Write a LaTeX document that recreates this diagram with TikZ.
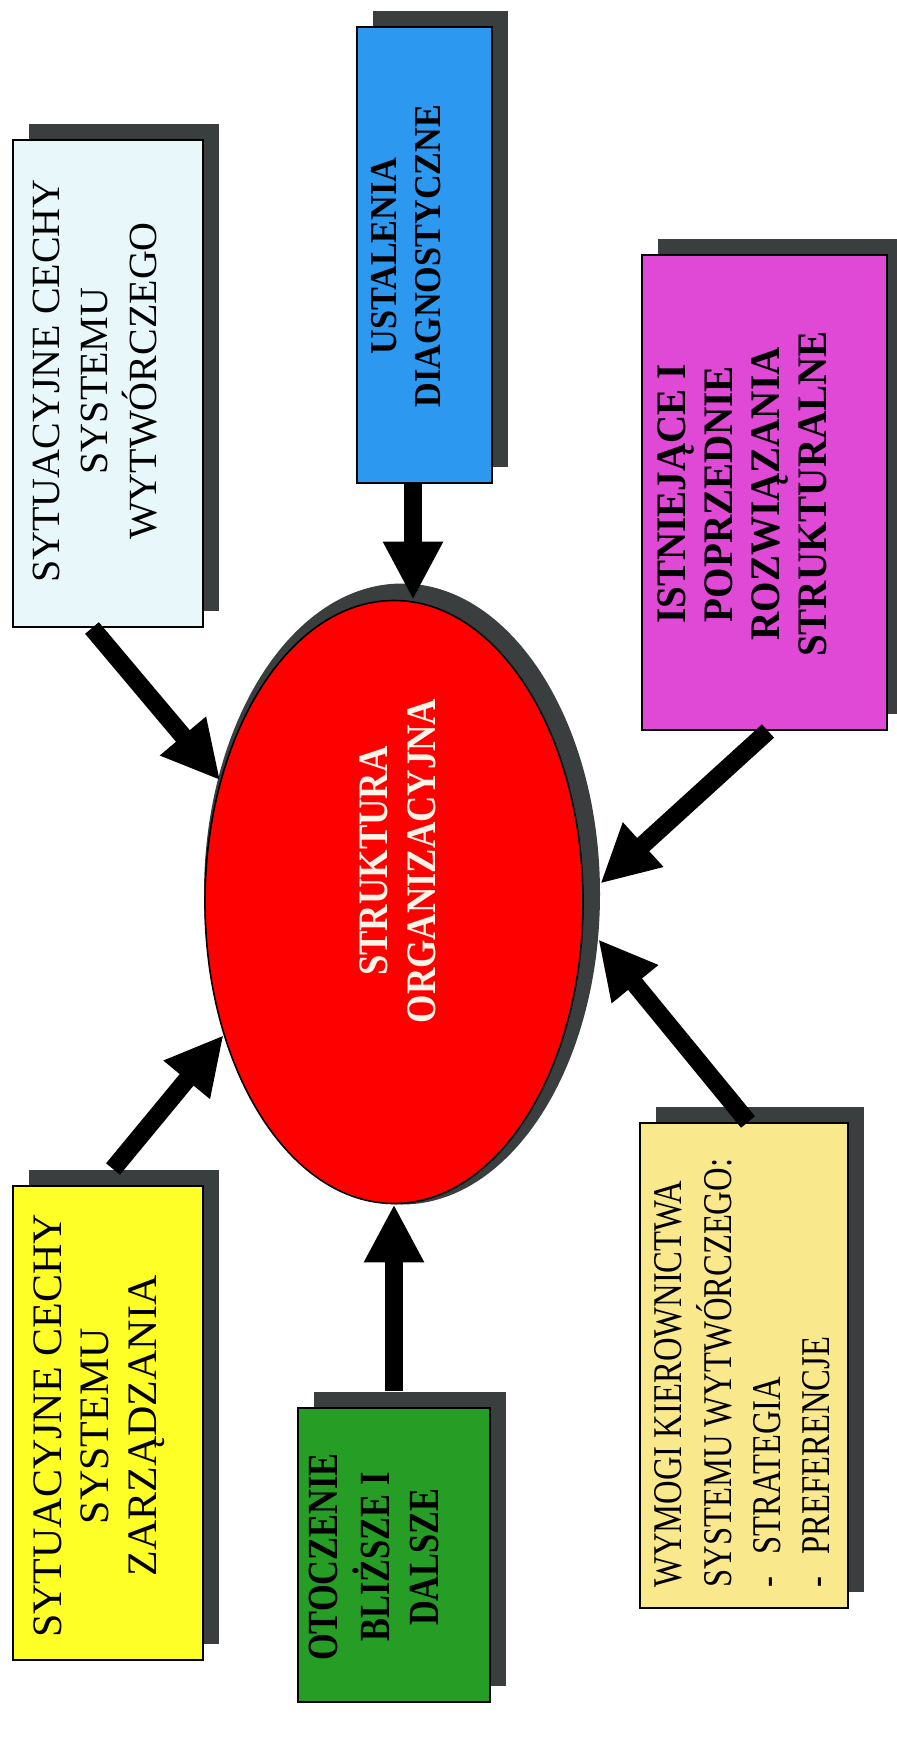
\documentclass[tikz,border=0pt]{standalone}
\usepackage{fontspec}
\usepackage{graphicx}
\setmainfont{Liberation Serif}
\usetikzlibrary{shapes.geometric,shadows,arrows.meta,calc}

\definecolor{shadowgray}{RGB}{58,62,62}
\definecolor{paleCyan}{RGB}{232,248,250}
\definecolor{skyBlue}{RGB}{45,152,240}
\definecolor{orchid}{RGB}{224,72,214}
\definecolor{lemon}{RGB}{255,255,40}
\definecolor{leaf}{RGB}{38,158,38}
\definecolor{sand}{RGB}{250,232,140}
\definecolor{cream}{RGB}{255,244,232}

% rotated, optionally condensed text block: #1 scale, #2 font size, #3 leading, #4 column, #5 lines
\newcommand\vblock[5]{\scalebox{#1}[1]{\fontsize{#2}{#3}\selectfont\begin{tabular}{@{}#4@{}}#5\end{tabular}}}

\tikzset{
  panel/.style={draw=black, line width=1pt, inner sep=0pt,
    drop shadow={shadow xshift=8pt, shadow yshift=8pt, fill=shadowgray, opacity=1}},
  vtext/.style={rotate=90, inner sep=0pt, text=black},
  feed/.style={line width=9pt, -{Triangle[length=29pt 0 0, width=28pt 0 0]}},
}

\begin{document}
\begin{tikzpicture}[x=0.5pt, y=-0.5pt]
  \fill[white] (0,0) rectangle (897,1760);
  \useasboundingbox (0,0) rectangle (897,1760);

  % central ellipse with its enlarged shadow behind it
  \node[ellipse, fill=shadowgray, inner sep=0pt, minimum width=198pt, minimum height=310.5pt] (ellshadow) at (402,894) {};
  \node[ellipse, draw=black, line width=0.8pt, inner sep=0pt, fill=red, minimum width=189pt, minimum height=301.5pt] (ell) at (394,902) {};
  \node[vtext, text=cream] (ellt) at (402,861)
    {\vblock{0.87}{21pt}{24pt}{c}{\bfseries STRUKTURA\\\bfseries ORGANIZACYJNA}};

  % surrounding factor boxes
  \node[panel, fill=paleCyan, minimum width=95pt, minimum height=243.5pt] (cyan) at (108,383.5) {};
  \node[vtext] (cyant) at (98,381)
    {\vblock{1}{20pt}{24.25pt}{c}{SYTUACYJNE CECHY\\SYSTEMU\\WYTWÓRCZEGO}};

  \node[panel, fill=skyBlue, minimum width=67.5pt, minimum height=228pt] (blue) at (424.5,255) {};
  \node[vtext] (bluet) at (410,256)
    {\vblock{0.9}{19pt}{22pt}{c}{\bfseries USTALENIA\\\bfseries DIAGNOSTYCZNE}};

  \node[panel, fill=orchid, minimum width=122.5pt, minimum height=237.5pt] (mag) at (764.5,492.5) {};
  \node[vtext] (magt) at (747,494)
    {\vblock{0.93}{21pt}{23.5pt}{c}{\bfseries ISTNIEJĄCE I\\\bfseries POPRZEDNIE\\\bfseries ROZWIĄZANIA\\\bfseries STRUKTURALNE}};

  \node[panel, fill=lemon, minimum width=95pt, minimum height=237pt] (yellow) at (108,1423) {};
  \node[vtext] (yellowt) at (99,1426)
    {\vblock{1}{21pt}{23.75pt}{c}{SYTUACYJNE CECHY\\SYSTEMU\\ZARZĄDZANIA}};

  \node[panel, fill=leaf, minimum width=96pt, minimum height=147pt] (green) at (394,1555) {};
  \node[vtext] (greent) at (378,1557)
    {\vblock{0.8}{21.5pt}{24.5pt}{c}{\bfseries OTOCZENIE\\\bfseries BLIŻSZE I\\\bfseries DALSZE}};

  \node[panel, fill=sand, minimum width=104pt, minimum height=242.5pt] (tan) at (744,1365.5) {};
  \node[vtext, anchor=west] (tant) at (746,1588)
    {\vblock{0.8}{20.4pt}{24.5pt}{l}{WYMOGI KIEROWNICTWA\\SYSTEMU WYTWÓRCZEGO:\\-\hspace{14pt}STRATEGIA\\-\hspace{14pt}PREFERENCJE}};

  % influence arrows
  \draw[feed] ([xshift=-8pt]cyan.south) -- (ell.145.6);
  \draw[feed] ([xshift=-5.75pt]blue.south) -- ([xshift=9.5pt]ell.north);
  \draw[feed] ([xshift=1.75pt]mag.south) -- (ellshadow.3);
  \draw[feed] ([xshift=2pt]tan.north) -- (ellshadow.-13);
  \draw[feed] ([xshift=2.5pt,yshift=8pt]yellow.north) -- (ell.218.3);
  \draw[feed] ([yshift=8pt]green.north) -- (ell.south);
\end{tikzpicture}
\end{document}
